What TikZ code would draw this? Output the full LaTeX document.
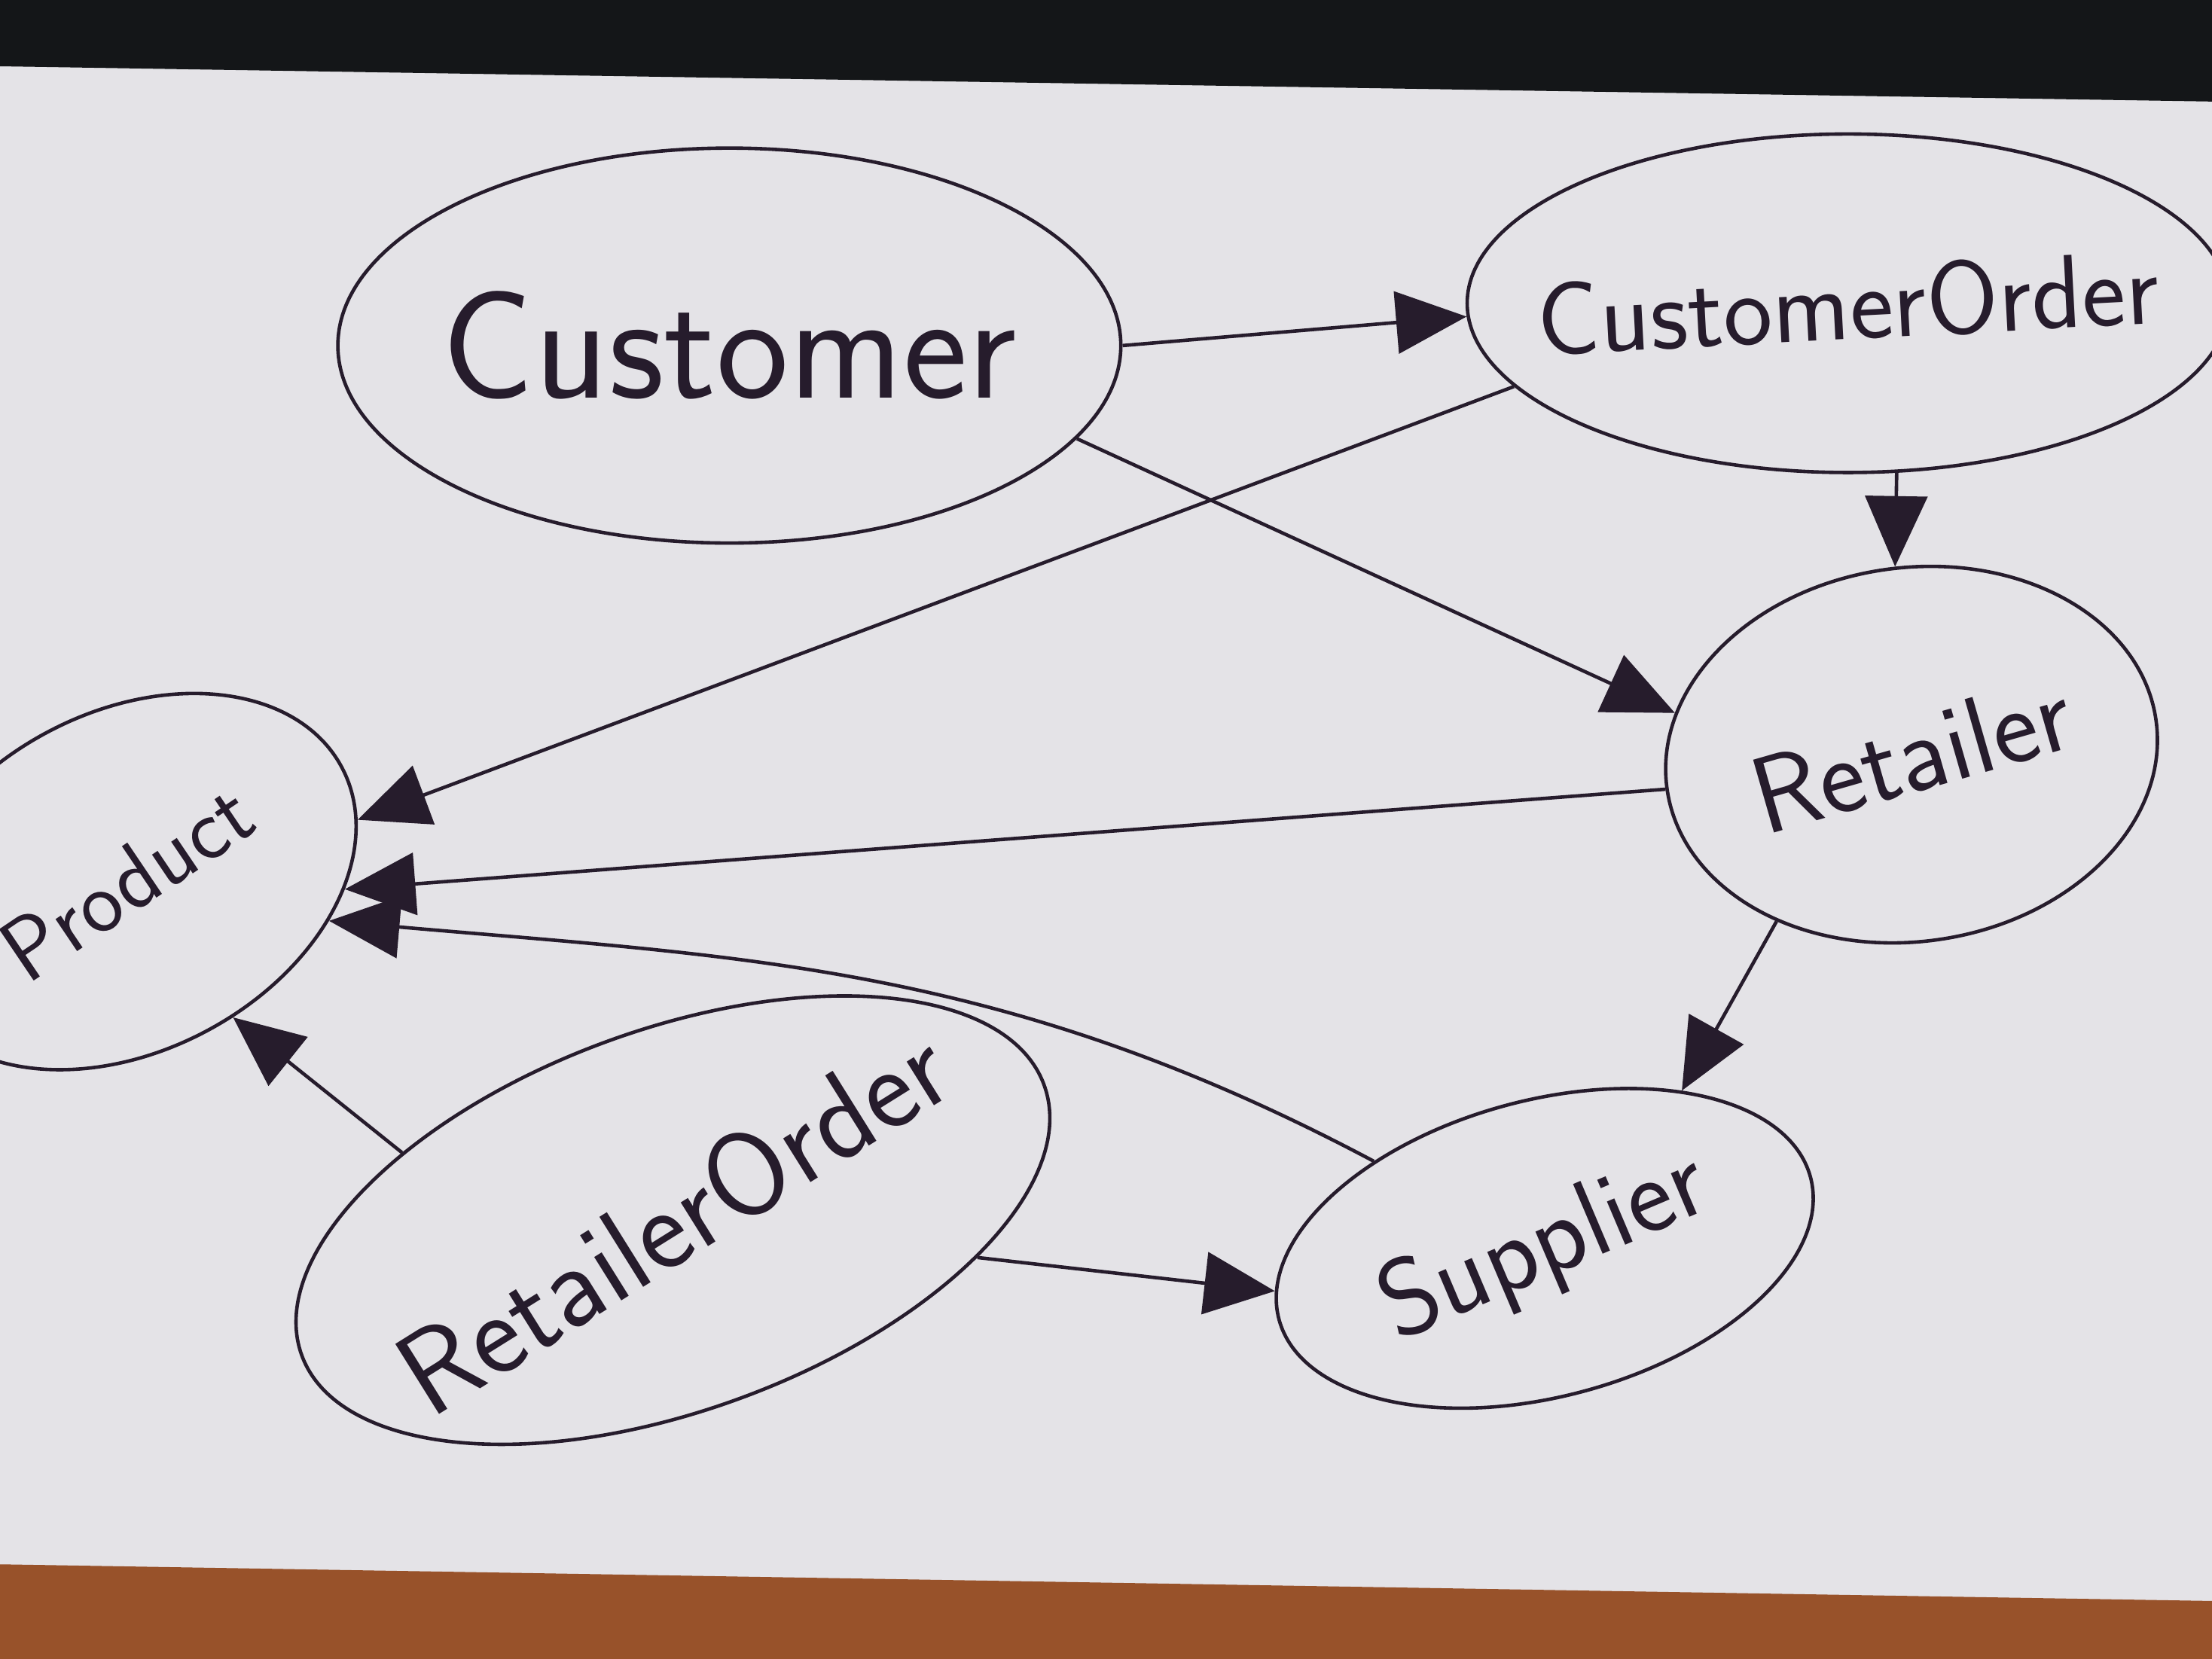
\documentclass[tikz,border=0pt]{standalone}
\usetikzlibrary{arrows.meta,shapes.geometric}
\definecolor{ink}{RGB}{38,28,44}
\definecolor{paper}{RGB}{228,227,231}
\definecolor{desk}{RGB}{20,22,24}
\definecolor{wood}{RGB}{152,82,42}

\begin{document}
\begin{tikzpicture}[
    entity/.style={ellipse, draw=ink, line width=0.7pt, inner xsep=-6mm, inner ysep=0pt, text=ink},
    rel/.style={draw=ink, line width=0.7pt, -{Triangle[length=5mm,width=4.4mm]}}
  ]
  \useasboundingbox (0,0) rectangle (15.68,-11.76);
  % paper on the desk
  \fill[paper] (0,0) rectangle (15.68,-11.76);
  \fill[desk] (0,0) -- (15.68,0) -- (15.68,-0.72) -- (0,-0.47) -- cycle;
  \fill[wood] (0,-11.09) -- (15.68,-11.35) -- (15.68,-11.76) -- (0,-11.76) -- cycle;

  \node[entity, minimum width=5.55cm, minimum height=2.8cm, font=\sffamily\fontsize{31}{36}\selectfont] (cust) at (5.17,-2.45) {Customer};
  \node[entity, minimum width=5.4cm, minimum height=2.4cm, font=\sffamily\fontsize{21}{26}\selectfont] (cord) at (13.1,-2.15) {\rotatebox{3}{CustomerOrder}};
  \node[entity, minimum width=3.45cm, minimum height=2.4cm, rotate=28, font=\sffamily\fontsize{18}{22}\selectfont] (prod) at (0.9,-6.25) {\rotatebox{6}{Product}};
  \node[entity, minimum width=3.5cm, minimum height=2.65cm, rotate=8, font=\sffamily\fontsize{22}{26}\selectfont] (ret) at (13.55,-5.35) {\rotatebox{8}{Retailer}};
  \node[entity, minimum width=5.6cm, minimum height=2.7cm, rotate=20, font=\sffamily\fontsize{24}{28}\selectfont] (rord) at (4.77,-8.65) {\rotatebox{12}{RetailerOrder}};
  \node[entity, minimum width=3.9cm, minimum height=2.1cm, rotate=15, font=\sffamily\fontsize{22}{26}\selectfont] (sup) at (10.95,-8.85) {\rotatebox{8}{Supplier}};

  \draw[rel] (cust.0) -- (cord.182);
  \draw[rel] (cust.-15) -- (ret.162);
  \draw[rel] (cord.194) -- (prod.-13);
  \draw[rel] (cord.-74) -- (ret.87);
  \draw[rel] (ret.180) -- (prod.-30);
  \draw[rel] (ret.223) -- (sup.34);
  \draw[rel] (sup.138) to[out=152,in=-5] (prod.-39);
  \draw[rel] (rord.146) -- (prod.-80);
  \draw[rel] (rord.-27) -- (sup.174);
\end{tikzpicture}
\end{document}
